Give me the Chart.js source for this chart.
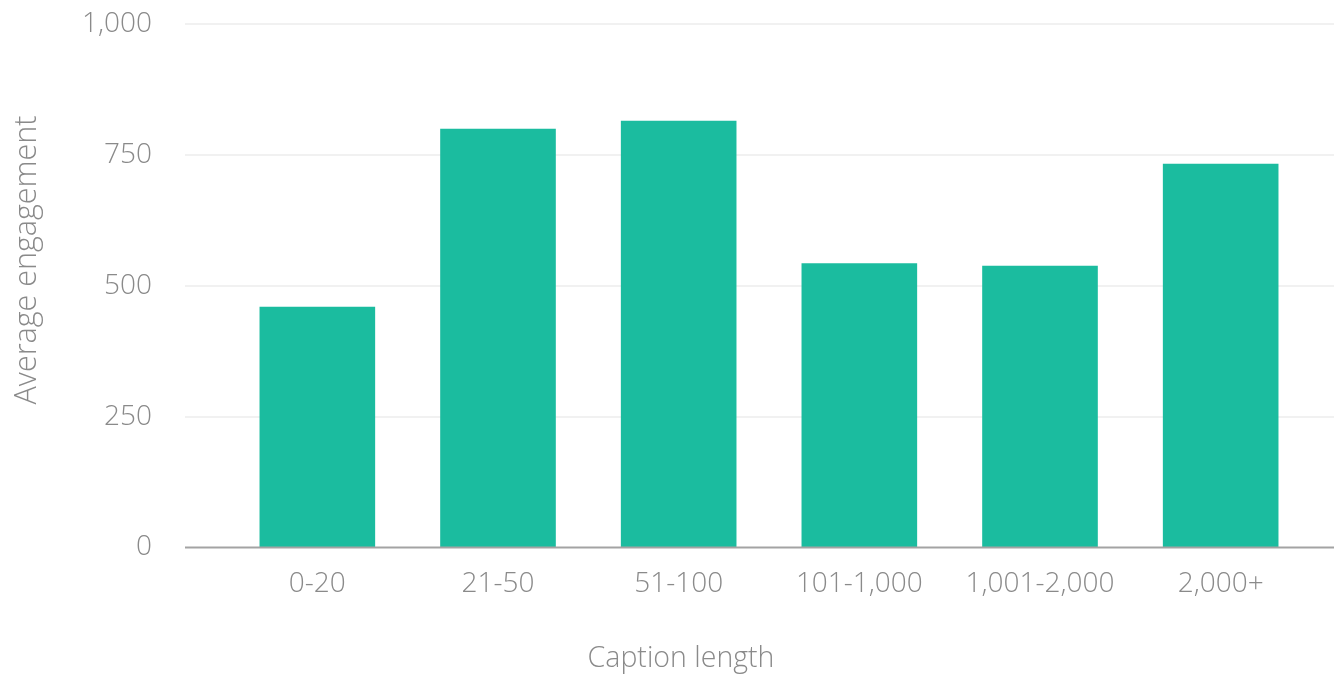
<!DOCTYPE html>
<html>
<head>
<meta charset="utf-8">
<script src="https://cdn.jsdelivr.net/npm/chart.js@4/dist/chart.umd.min.js"></script>
<style>
  html, body { margin: 0; padding: 0; background: #ffffff; }
  #wrap { width: 1334px; height: 674px; position: relative; }
</style>
</head>
<body>
<div id="wrap"><canvas id="chart" width="1334" height="674"></canvas></div>
<script>
// Average engagement by caption length
const categories = ['0-20', '21-50', '51-100', '101-1,000', '1,001-2,000', '2,000+'];
const engagement = [460, 800, 815, 543, 538, 733];
const yTicks = [0, 250, 500, 750, 1000];
const xTitle = 'Caption length';
const yTitle = 'Average engagement';

const FONT = '"Open Sans", Lato, "DejaVu Sans", sans-serif';
const TEXT = '#8a8a8a';
const BAR = '#1bbc9f';

// Grid lines, baseline and axis titles that run past the plot area
const frame = {
  id: 'frame',
  beforeDatasetsDraw(chart) {
    const ctx = chart.ctx;
    const y = chart.scales.y;
    ctx.save();
    ctx.strokeStyle = '#f1f1f1';
    ctx.lineWidth = 2;
    yTicks.forEach(v => {
      if (v === 0) return;
      const py = Math.round(y.getPixelForValue(v));
      ctx.beginPath();
      ctx.moveTo(185, py);
      ctx.lineTo(1334, py);
      ctx.stroke();
    });
    ctx.restore();
  },
  afterDatasetsDraw(chart) {
    const ctx = chart.ctx;
    const y = chart.scales.y;
    const py = Math.round(y.getPixelForValue(0)) + 0.5;
    ctx.save();
    ctx.strokeStyle = '#a3a3a3';
    ctx.lineWidth = 2;
    ctx.beginPath();
    ctx.moveTo(185, py);
    ctx.lineTo(1334, py);
    ctx.stroke();

    ctx.fillStyle = TEXT;
    ctx.font = '300 28.5px ' + FONT;
    ctx.textAlign = 'center';
    ctx.textBaseline = 'middle';
    ctx.fillText(xTitle, 681, 659);

    ctx.translate(27, 260);
    ctx.rotate(-Math.PI / 2);
    ctx.font = '300 30.5px ' + FONT;
    ctx.fillText(yTitle, 0, 0);
    ctx.restore();
  }
};

new Chart(document.getElementById('chart'), {
  type: 'bar',
  data: {
    labels: categories,
    datasets: [{
      data: engagement,
      backgroundColor: BAR,
      borderWidth: 0,
      categoryPercentage: 0.64,
      barPercentage: 1.0
    }]
  },
  options: {
    responsive: false,
    animation: false,
    devicePixelRatio: 1,
    layout: { padding: { top: 24, right: 23, bottom: 53, left: 0 } },
    plugins: {
      legend: { display: false },
      tooltip: { enabled: false }
    },
    scales: {
      x: {
        grid: { display: false, drawTicks: false },
        border: { display: false },
        ticks: {
          color: TEXT,
          padding: 20,
          maxRotation: 0,
          autoSkip: false,
          font: { family: FONT, size: 28, weight: '300' }
        }
      },
      y: {
        min: 0,
        max: 1000,
        grid: { display: false, drawTicks: false },
        border: { display: false },
        afterBuildTicks(scale) { scale.ticks = yTicks.map(v => ({ value: v })); },
        ticks: {
          color: TEXT,
          padding: 75,
          font: { family: FONT, size: 28, weight: '300' },
          callback: v => v.toLocaleString('en-US')
        },
        afterFit(scale) {
          scale.width = 227;
          scale.paddingTop = 12;
          scale.paddingBottom = 12;
        }
      }
    }
  },
  plugins: [frame]
});
</script>
</body>
</html>
